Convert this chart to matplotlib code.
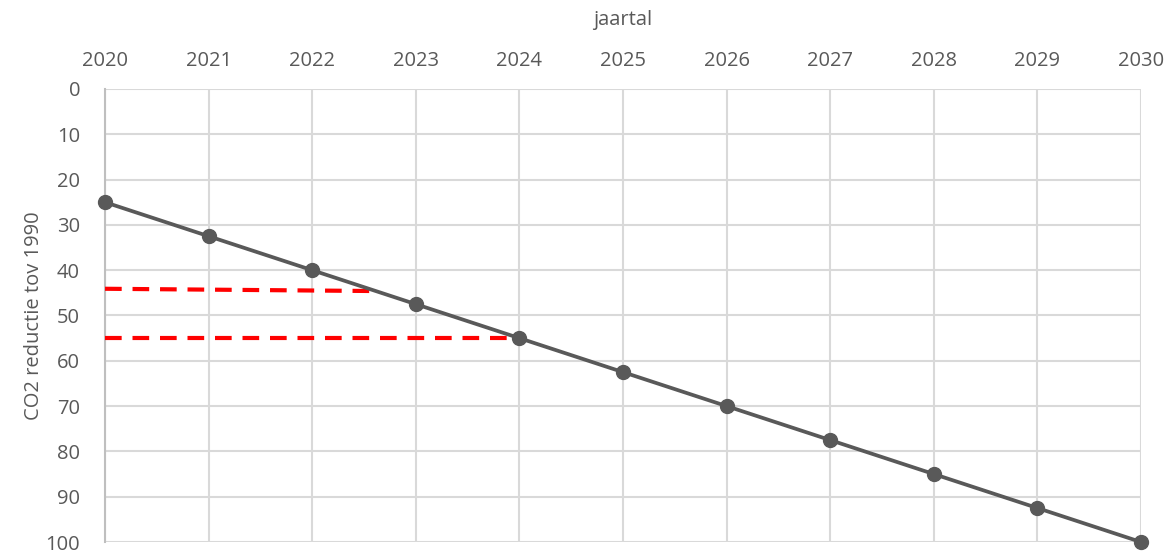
import matplotlib.pyplot as plt

years = [2020, 2021, 2022, 2023, 2024, 2025, 2026, 2027, 2028, 2029, 2030]
reduction = [25, 32.5, 40, 47.5, 55, 62.5, 70, 77.5, 85, 92.5, 100]

# red dashed helper lines
red1_x = [2020, 2022.6]
red1_y = [44.1, 44.6]
red2_x = [2020, 2024]
red2_y = [55, 55]

plt.rcParams['font.family'] = ['Open Sans', 'DejaVu Sans']
grey = '#595959'

fig = plt.figure(figsize=(11.67, 5.52), dpi=100)
ax = fig.add_axes([0.09, 0.0181, 0.8877, 0.8207])

ax.plot(red1_x, red1_y, color='#ff0000', lw=3, dashes=(4, 2.6), zorder=3)
ax.plot(red2_x, red2_y, color='#ff0000', lw=3, dashes=(4, 2.6), zorder=3)
ax.plot(years, reduction, color=grey, lw=2.7, marker='o', markersize=10, zorder=4, clip_on=False)

ax.set_xlim(2020, 2030)
ax.set_ylim(100, 0)
ax.set_xticks(years)
ax.set_yticks(range(0, 101, 10))
ax.xaxis.tick_top()
ax.xaxis.set_label_position('top')
ax.tick_params(length=0, labelsize=14.5, colors=grey)
ax.tick_params(axis='x', pad=13)
ax.tick_params(axis='y', pad=18)
ax.set_xlabel('jaartal', fontsize=14.5, color=grey, labelpad=19)
ax.set_ylabel('CO2 reductie tov 1990', fontsize=14.5, color=grey, labelpad=1)
ax.grid(True, color='#d9d9d9', lw=1.5)
for s in ax.spines.values():
    s.set_visible(False)
ax.spines['left'].set_visible(True)
ax.spines['left'].set_color('#bfbfbf')
ax.spines['left'].set_linewidth(1.5)
ax.set_axisbelow(True)

plt.savefig('out.png')
